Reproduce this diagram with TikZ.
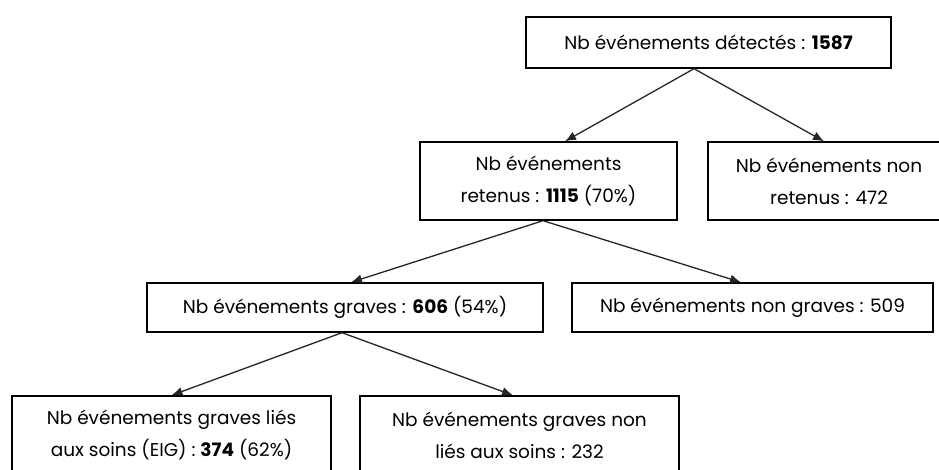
\documentclass[tikz,border=0pt]{standalone}
\usepackage{fontspec}
\setmainfont{Poppins}
\usetikzlibrary{arrows.meta}

\tikzset{
  boite/.style={draw,line width=1.4pt,align=center,inner sep=0pt,
    font=\fontsize{18.5}{32}\selectfont},
  fleche/.style={->,line width=1.3pt,draw=black!85}
}

\begin{document}
\begin{tikzpicture}[x=1pt,y=-1pt,>={Latex[length=11pt,width=9pt]}]

  \useasboundingbox (0,0) rectangle (939,469);
  \fill[white] (0,0) rectangle (939,469);

  % niveau 1
  \node[boite,minimum width=365pt,minimum height=51pt] (detect) at (708.5,42.5)
    {Nb événements détectés : \textbf{1587}};

  % niveau 2
  \node[boite,minimum width=257pt,minimum height=78pt] (ret) at (548.5,181)
    {Nb événements\\retenus : \textbf{1115} (70\%)};
  \node[boite,minimum width=242pt,minimum height=78pt] (nonret) at (829,181)
    {Nb événements non\\retenus : 472};

  % niveau 3
  \node[boite,minimum width=396pt,minimum height=49pt] (grave) at (345,307.5)
    {Nb événements graves : \textbf{606} (54\%)};
  \node[boite,minimum width=361pt,minimum height=49pt] (nongrave) at (752.5,307.5)
    {Nb événements non graves : 509};

  % niveau 4
  \node[boite,minimum width=319pt,minimum height=78pt] (eig) at (171.5,435)
    {Nb événements graves liés\\aux soins (EIG) : \textbf{374} (62\%)};
  \node[boite,minimum width=319pt,minimum height=78pt] (nonlie) at (519.5,435)
    {Nb événements graves non\\liés aux soins : 232};

  \draw[fleche] ([xshift=-14.5pt]detect.south) -- ([xshift=16.5pt]ret.north);
  \draw[fleche] ([xshift=-14.5pt]detect.south) -- ([xshift=-5pt]nonret.north);
  \draw[fleche] ([xshift=-5.5pt]ret.south) -- ([xshift=6pt]grave.north);
  \draw[fleche] ([xshift=-5.5pt]ret.south) -- ([xshift=-11.5pt]nongrave.north);
  \draw[fleche] ([xshift=-3pt]grave.south) -- (eig.north);
  \draw[fleche] ([xshift=-3pt]grave.south) -- ([xshift=-6.5pt]nonlie.north);

\end{tikzpicture}
\end{document}
